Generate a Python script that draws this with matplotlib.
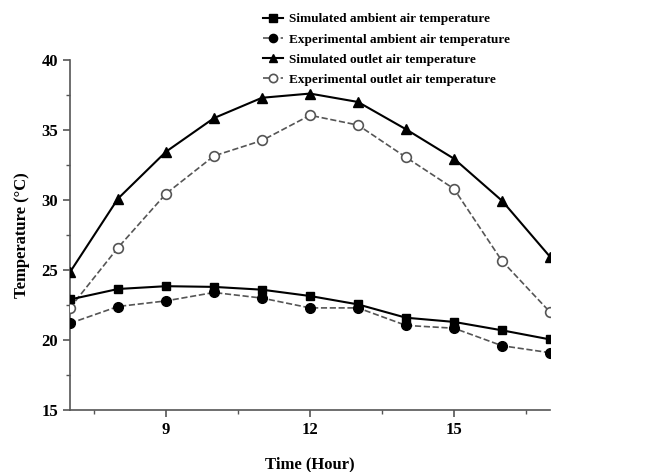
import matplotlib
matplotlib.use("Agg")
from matplotlib import pyplot as plt
from matplotlib.ticker import MultipleLocator
import numpy as np

# Measured temperatures over the day
hours = [7, 8, 9, 10, 11, 12, 13, 14, 15, 16, 17]
sim_ambient = [22.9, 23.65, 23.85, 23.8, 23.6, 23.15, 22.55, 21.6, 21.3, 20.7, 20.05]
exp_ambient = [21.2, 22.4, 22.8, 23.4, 23.0, 22.3, 22.3, 21.05, 20.85, 19.6, 19.1]
sim_outlet = [24.85, 30.1, 33.45, 35.85, 37.3, 37.6, 37.0, 35.05, 32.95, 29.95, 25.95]
exp_outlet = [22.3, 26.6, 30.45, 33.15, 34.25, 36.05, 35.35, 33.05, 30.8, 25.65, 22.0]

plt.rcParams['font.family'] = ['Liberation Serif', 'DejaVu Serif']
plt.rcParams['font.weight'] = 'bold'

fig = plt.figure(figsize=(6.54, 4.72), dpi=100)
ax = fig.add_axes([0.107, 0.131, 0.734, 0.742])

grey = '#555555'
ax.plot(hours, sim_ambient, '-', color='black', lw=1.5, marker='s', ms=6,
        label='Simulated ambient air temperature', zorder=4)
ax.plot(hours, exp_ambient, '--', color=grey, lw=1.2, marker='o', ms=7,
        mfc='black', mec='black', label='Experimental ambient air temperature', zorder=3)
ax.plot(hours, sim_outlet, '-', color='black', lw=1.5, marker='^', ms=7,
        label='Simulated outlet air temperature', zorder=4)
ax.plot(hours, exp_outlet, '--', color=grey, lw=1.2, marker='o', ms=7,
        mfc='white', mec=grey, mew=1.2, label='Experimental outlet air temperature', zorder=3)

ax.set_xlim(7, 17)
ax.set_ylim(15, 40)
ax.xaxis.set_major_locator(MultipleLocator(3))
ax.xaxis.set_minor_locator(MultipleLocator(1.5))
ax.yaxis.set_major_locator(MultipleLocator(5))
ax.yaxis.set_minor_locator(MultipleLocator(2.5))
ax.spines['top'].set_visible(False)
ax.spines['right'].set_visible(False)
for s in ('left', 'bottom'):
    ax.spines[s].set_color('#555555')
    ax.spines[s].set_linewidth(1.2)
ax.tick_params(which='major', direction='out', length=5, width=1.2, color='#555555',
               labelsize=12)
ax.tick_params(which='minor', direction='out', length=3, width=1.0, color='#555555')
for lbl in ax.get_xticklabels() + ax.get_yticklabels():
    lbl.set_fontweight('bold')

ax.set_xlabel('Time (Hour)', fontsize=12, fontweight='bold', labelpad=13)
ax.set_ylabel('Temperature (°C)', fontsize=12, fontweight='bold', labelpad=8)

fig.legend(loc='upper left', bbox_to_anchor=(0.402, 0.972), frameon=False,
           handlelength=1.5, handletextpad=0.5, labelspacing=0.6,
           borderaxespad=0, borderpad=0, markerscale=0.85,
           prop={'weight': 'bold', 'size': 9.5})

fig.savefig('out.png', dpi=100)
